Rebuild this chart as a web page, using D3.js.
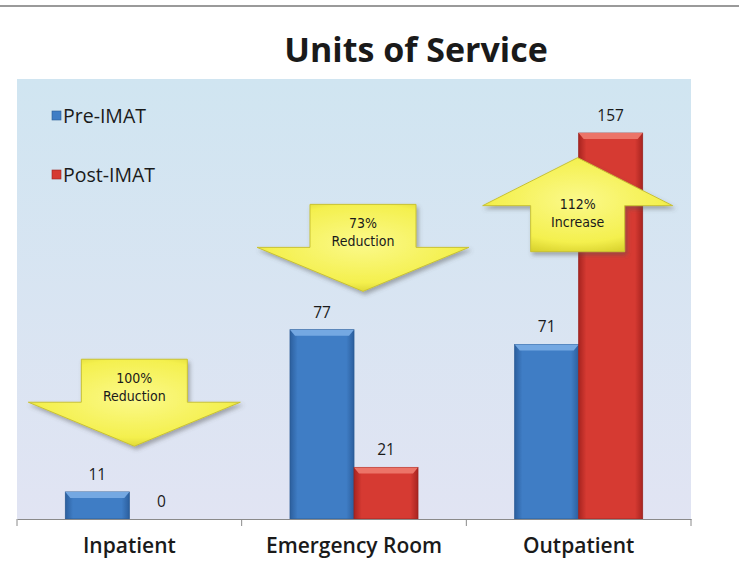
<!DOCTYPE html>
<html lang="en">
<head>
<meta charset="utf-8">
<title>Units of Service</title>
<style>
  body { margin: 0; background: #fff; }
  svg text { font-family: "Open Sans", "DejaVu Sans", sans-serif; fill: #1a1a1a; }
</style>
</head>
<body>
<div id="chart"></div>
<script src="https://d3js.org/d3.v7.min.js"></script>
<script>
  // data
  const categories = ["Inpatient", "Emergency Room", "Outpatient"];
  const seriesNames = ["Pre-IMAT", "Post-IMAT"];
  const preValues = [11, 77, 71];
  const postValues = [0, 21, 157];
  const noteLines = [["100%", "Reduction"], ["73%", "Reduction"], ["112%", "Increase"]];
  const noteDirs = ["down", "down", "up"];

  const width = 739, height = 561;
  const plot = { left: 17, right: 691, top: 79, bottom: 519 };

  const svg = d3.select("#chart").append("svg")
    .attr("width", width).attr("height", height);

  const defs = svg.append("defs");
  const bg = defs.append("linearGradient").attr("id", "bg")
    .attr("x1", 0).attr("y1", 0).attr("x2", 0).attr("y2", 1);
  bg.append("stop").attr("offset", "0%").attr("stop-color", "#d0e5f1");
  bg.append("stop").attr("offset", "100%").attr("stop-color", "#e1e4f3");

  function barGrad(id, edge, mid) {
    const g = defs.append("linearGradient").attr("id", id)
      .attr("x1", 0).attr("y1", 0).attr("x2", 1).attr("y2", 0);
    g.append("stop").attr("offset", "0%").attr("stop-color", edge);
    g.append("stop").attr("offset", "12%").attr("stop-color", mid);
    g.append("stop").attr("offset", "88%").attr("stop-color", mid);
    g.append("stop").attr("offset", "100%").attr("stop-color", edge);
  }
  barGrad("blueBar", "#2c5f9e", "#3f7dc5");
  barGrad("redBar", "#a82420", "#d63a32");

  const yel = defs.append("radialGradient").attr("id", "yel")
    .attr("cx", "50%").attr("cy", "45%").attr("r", "60%");
  yel.append("stop").attr("offset", "0%").attr("stop-color", "#fbf98a");
  yel.append("stop").attr("offset", "75%").attr("stop-color", "#f4f04e");
  yel.append("stop").attr("offset", "100%").attr("stop-color", "#d6cf2a");

  const shadow = defs.append("filter").attr("id", "shadow")
    .attr("x", "-20%").attr("y", "-20%").attr("width", "140%").attr("height", "140%");
  shadow.append("feDropShadow").attr("dx", 2).attr("dy", 3)
    .attr("stdDeviation", 2).attr("flood-color", "#555").attr("flood-opacity", 0.45);

  // top rule
  svg.append("line").attr("x1", 0).attr("x2", width).attr("y1", 6).attr("y2", 6)
    .attr("stroke", "#9a9a9a").attr("stroke-width", 2);

  // plot area
  svg.append("rect")
    .attr("x", plot.left).attr("y", plot.top)
    .attr("width", plot.right - plot.left).attr("height", plot.bottom - plot.top)
    .attr("fill", "url(#bg)");

  const x0 = d3.scaleBand().domain(categories).range([plot.left, plot.right]);
  const x1 = d3.scaleBand().domain(seriesNames).range([0, 128]);
  const y = d3.scaleLinear().domain([0, 179]).range([plot.bottom, plot.top]);

  const rows = categories.map((c, i) => ({
    cat: c, vals: [{ s: seriesNames[0], v: preValues[i] }, { s: seriesNames[1], v: postValues[i] }]
  }));
  const groupOffset = (x0.bandwidth() - 128) / 2;

  const groups = svg.append("g").selectAll("g").data(rows).join("g")
    .attr("transform", d => `translate(${x0(d.cat) + groupOffset},0)`);

  const bars = groups.selectAll("g").data(d => d.vals.filter(v => v.v > 0)).join("g");
  bars.append("rect")
    .attr("x", d => x1(d.s)).attr("y", d => y(d.v))
    .attr("width", x1.bandwidth()).attr("height", d => y(0) - y(d.v))
    .attr("fill", d => d.s === seriesNames[0] ? "url(#blueBar)" : "url(#redBar)")
    .attr("stroke", d => d.s === seriesNames[0] ? "#2a5a94" : "#9c2420")
    .attr("stroke-width", 0.8);
  bars.append("path")
    .attr("d", d => {
      const xl = x1(d.s), xr = xl + x1.bandwidth(), t = y(d.v);
      return `M${xl},${t}L${xr},${t}L${xr - 5},${t + 6}L${xl + 5},${t + 6}Z`;
    })
    .attr("fill", d => d.s === seriesNames[0] ? "#74a8e2" : "#ec7468");

  groups.selectAll("text.val").data(d => d.vals).join("text")
    .attr("class", "val")
    .attr("x", d => x1(d.s) + x1.bandwidth() / 2)
    .attr("y", d => y(d.v) - 12)
    .attr("text-anchor", "middle")
    .style("font-size", "15.5px")
    .text(d => d.v);

  // axis
  const axis = svg.append("g").attr("transform", `translate(0,${plot.bottom})`)
    .call(d3.axisBottom(x0).tickSize(0));
  axis.select(".domain").attr("stroke", "#8a8a8a");
  axis.selectAll(".tick text")
    .style("font-size", "21px").style("font-weight", "600")
    .attr("dy", "0").attr("y", 34)
    .style("font-family", "'Open Sans', sans-serif").attr("fill", "#1a1a1a");
  const edges = categories.map(c => x0(c)).concat([x0.range()[1]]);
  axis.selectAll("line.edge").data(edges).join("line").attr("class", "edge")
    .attr("x1", d => d).attr("x2", d => d).attr("y1", 0).attr("y2", 7)
    .attr("stroke", "#8a8a8a");

  // title
  svg.append("text").attr("x", 416).attr("y", 62).attr("text-anchor", "middle")
    .style("font-size", "34px").style("font-weight", "700")
    .text("Units of Service");

  // legend
  const legend = svg.append("g").selectAll("g").data(seriesNames).join("g")
    .attr("transform", (d, i) => `translate(52,${111 + i * 59})`);
  legend.append("rect").attr("width", 9).attr("height", 9)
    .attr("fill", (d, i) => i === 0 ? "#3f7dc5" : "#d63a32")
    .attr("stroke", (d, i) => i === 0 ? "#2a5a94" : "#9c2420").attr("stroke-width", 0.6);
  legend.append("text").attr("x", 11).attr("y", 12)
    .style("font-size", "19.5px").attr("fill", "#222").text(d => d);

  // arrow callouts
  const arrowTop = [65, 128, 147]; // value-space anchors
  function arrowPath(dir, cx, t) {
    if (dir === "down") {
      const bw = 53, ww = 106, bh = 43, hh = 44;
      return `M${cx - bw},${t}L${cx + bw},${t}L${cx + bw},${t + bh}L${cx + ww},${t + bh}` +
        `L${cx},${t + bh + hh}L${cx - ww},${t + bh}L${cx - bw},${t + bh}Z`;
    }
    const bw = 47, ww = 95, hh = 48, bh = 46;
    return `M${cx},${t}L${cx + ww},${t + hh}L${cx + bw},${t + hh}L${cx + bw},${t + hh + bh}` +
      `L${cx - bw},${t + hh + bh}L${cx - bw},${t + hh}L${cx - ww},${t + hh}Z`;
  }
  const shifts = [5, 9, -1];
  const notes = svg.append("g").selectAll("g").data(categories).join("g");
  notes.append("path")
    .attr("d", (c, i) => arrowPath(noteDirs[i], x0(c) + x0.bandwidth() / 2 + shifts[i], y(arrowTop[i])))
    .attr("fill", "url(#yel)").attr("stroke", "#c9c233").attr("stroke-width", 1)
    .attr("filter", "url(#shadow)");
  notes.each(function (c, i) {
    const cx = x0(c) + x0.bandwidth() / 2 + shifts[i];
    const t = y(arrowTop[i]);
    const base = noteDirs[i] === "down" ? t + 24 : t + 51;
    d3.select(this).selectAll("text").data(noteLines[i]).join("text")
      .attr("x", cx).attr("y", (d, j) => base + j * 18)
      .attr("text-anchor", "middle")
      .style("font-size", "14px")
      .style("font-family", "'DejaVu Sans Condensed', 'Liberation Sans Narrow', sans-serif")
      .text(d => d);
  });
</script>
</body>
</html>
